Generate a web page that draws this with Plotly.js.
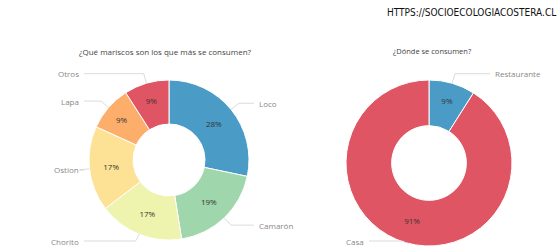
<!DOCTYPE html><html><head><meta charset="utf-8">
<script src="https://cdn.plot.ly/plotly-3.0.1.min.js"></script>
<style>html,body{margin:0;padding:0;background:#fff}</style></head><body>
<div id="chart" style="width:559px;height:248px"></div>
<script>
const mariscosLabels = ['Loco','Camarón','Chorito','Ostion','Lapa','Otros'];
const mariscosValues = [28,19,17,17,9,9];
const mariscosColors = ['#4a9bc6','#9fd6ab','#eef3ae','#fde295','#fcae6a','#e05563'];
const lugarLabels = ['Restaurante','Casa'];
const lugarValues = [9,91];
const lugarColors = ['#4a9bc6','#e05563'];
const urlText = 'HTTPS://SOCIOECOLOGIACOSTERA.CL';

const W=559,H=248;
const pies = [
 {labels:mariscosLabels, values:mariscosValues, colors:mariscosColors, cx:169, cy:160, r:80, rightX:257, leftX:81, title:'¿Qué mariscos son los que más se consumen?', titleX:165, titleSize:8},
 {labels:lugarLabels, values:lugarValues, colors:lugarColors, cx:429, cy:163, r:83, rightX:493, leftX:366, title:'¿Dónde se consumen?', titleX:432, titleSize:7.5}
];
const px = x => x/W, py = y => 1 - y/H;
const traces=[], annotations=[], shapes=[];
const font = 'Open Sans, Lato, sans-serif';
pies.forEach(p=>{
  traces.push({type:'pie', labels:p.labels, values:p.values, sort:false, direction:'clockwise', rotation:0,
    hole:0.45, marker:{colors:p.colors, line:{color:'#ffffff', width:1}},
    textinfo:'percent', texttemplate:'%{percent:.0%}', textposition:'inside', insidetextorientation:'horizontal',
    textfont:{family:font, size:8, color:'#333'}, hoverinfo:'label+percent',
    domain:{x:[px(p.cx-p.r), px(p.cx+p.r)], y:[py(p.cy+p.r), py(p.cy-p.r)]}});
  annotations.push({xref:'paper', yref:'paper', x:px(p.titleX), y:py(51), text:p.title, showarrow:false,
    xanchor:'center', yanchor:'middle', font:{family:font, size:p.titleSize, color:'#444'}});
  const total = p.values.reduce((a,b)=>a+b,0);
  let cum=0;
  p.values.forEach((v,i)=>{
    const mid = (cum + v/2)/total*2*Math.PI; cum+=v;
    const s=Math.sin(mid), c=Math.cos(mid);
    const ex=p.cx+p.r*s, ey=p.cy-p.r*c;
    const ox=p.cx+(p.r+10)*s, oy=Math.min(p.cy-(p.r+10)*c, 241);
    const right = s>=0;
    const lx = right ? p.rightX : p.leftX;
    const lineEnd = right ? lx-3 : lx+3;
    shapes.push({type:'path', xref:'paper', yref:'paper',
      path:`M ${px(ex)} ${py(ey)} L ${px(ox)} ${py(oy)} L ${px(lineEnd)} ${py(oy)}`,
      line:{color:'#cccccc', width:0.7}});
    annotations.push({xref:'paper', yref:'paper', x:px(lx), y:py(oy), text:p.labels[i], showarrow:false,
      xanchor: right?'left':'right', yanchor:'middle', font:{family:font, size:8, color:'#888'}});
  });
});
annotations.push({xref:'paper', yref:'paper', x:px(558), y:py(13), text:urlText, showarrow:false,
  xanchor:'right', yanchor:'middle', font:{family:'DejaVu Sans Condensed, sans-serif', size:10, color:'#111'}});
Plotly.newPlot('chart', traces, {width:W, height:H, margin:{l:0,r:0,t:0,b:0}, showlegend:false,
  paper_bgcolor:'#fff', plot_bgcolor:'#fff', annotations, shapes}, {displayModeBar:false, staticPlot:true});
</script></body></html>
